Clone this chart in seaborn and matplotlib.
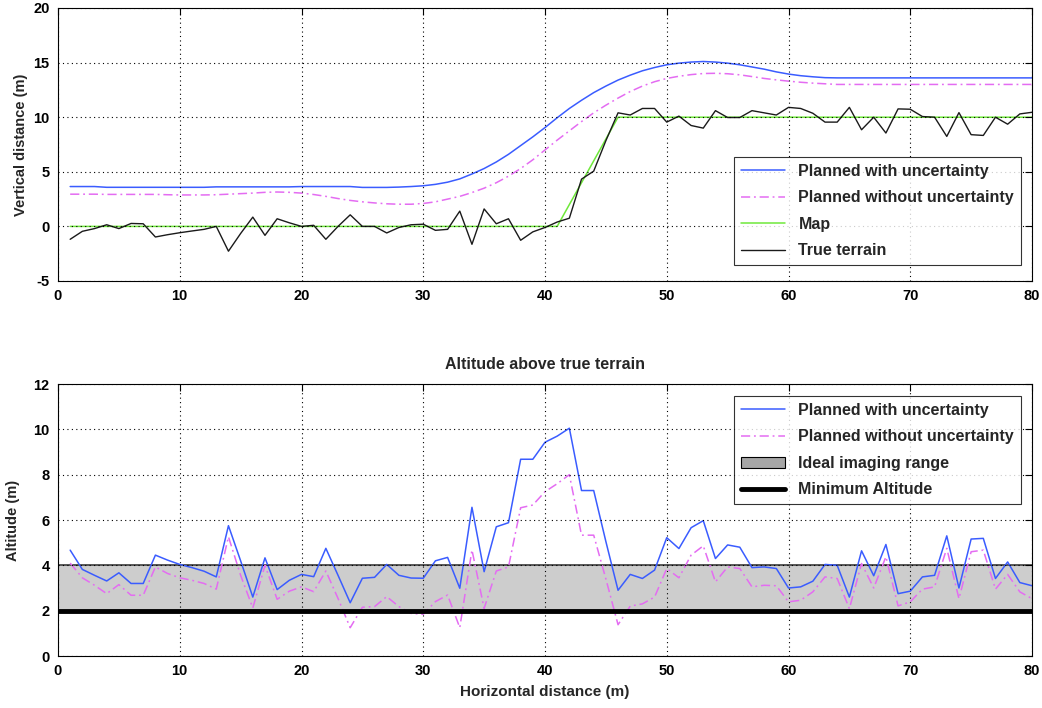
import numpy as np
import pandas as pd
import matplotlib
matplotlib.use("Agg")
import matplotlib.pyplot as plt
import seaborn as sns
from matplotlib.patches import Patch
from matplotlib.lines import Line2D

# ---------------- data ----------------
x_pos = list(range(1, 81))

terrain = [-1.18, -0.45, -0.2, 0.15, -0.2, 0.27, 0.24, -0.97, -0.76, -0.58,
           -0.42, -0.27, 0.0, -2.27, -0.65, 0.85, -0.82, 0.7, 0.33, 0.0,
           0.1, -1.18, 0.0, 1.06, 0.0, 0.0, -0.6, -0.1, 0.15, 0.2,
           -0.36, -0.27, 1.4, -1.64, 1.6, 0.24, 0.7, -1.27, -0.5, -0.1,
           0.4, 0.75, 4.33, 5.06, 7.85, 10.4, 10.2, 10.8, 10.8, 9.55,
           10.1, 9.24, 9.0, 10.6, 9.97, 9.97, 10.6, 10.4, 10.2, 10.9,
           10.8, 10.36, 9.55, 9.55, 10.9, 8.85, 10.0, 8.55, 10.76, 10.73,
           10.06, 10.0, 8.24, 10.42, 8.4, 8.33, 10.0, 9.36, 10.3, 10.45]

map_terrain = [0] * 41 + [2, 4, 6, 8] + [10] * 35

planned_with = [3.65, 3.65, 3.65, 3.58, 3.58, 3.58, 3.58, 3.58, 3.58, 3.58,
                3.58, 3.58, 3.62, 3.62, 3.62, 3.62, 3.62, 3.62, 3.62, 3.65,
                3.65, 3.65, 3.65, 3.65, 3.57, 3.57, 3.57, 3.6, 3.65, 3.72,
                3.85, 4.05, 4.35, 4.8, 5.3, 5.9, 6.6, 7.4, 8.2, 9.05,
                9.95, 10.8, 11.55, 12.25, 12.85, 13.4, 13.85, 14.25, 14.55, 14.8,
                14.95, 15.05, 15.1, 15.05, 14.95, 14.8, 14.6, 14.4, 14.15, 13.95,
                13.8, 13.7, 13.62, 13.6, 13.6, 13.6, 13.6, 13.6, 13.6, 13.6,
                13.6, 13.6, 13.6, 13.6, 13.6, 13.6, 13.6, 13.6, 13.6, 13.6]

planned_without = [2.95, 2.95, 2.95, 2.93, 2.93, 2.93, 2.93, 2.93, 2.9, 2.88,
                   2.88, 2.88, 2.9, 2.95, 3.0, 3.05, 3.12, 3.15, 3.12, 3.05,
                   2.92, 2.75, 2.55, 2.38, 2.25, 2.15, 2.07, 2.03, 2.03, 2.1,
                   2.25, 2.5, 2.75, 3.1, 3.5, 4.0, 4.6, 5.3, 6.1, 7.0,
                   7.9, 8.75, 9.6, 10.4, 11.1, 11.75, 12.35, 12.85, 13.25, 13.55,
                   13.75, 13.9, 14.0, 14.02, 13.98, 13.88, 13.72, 13.55, 13.42, 13.3,
                   13.2, 13.12, 13.06, 13.0, 13.0, 13.0, 13.0, 13.0, 13.0, 13.0,
                   13.0, 13.0, 13.0, 13.0, 13.0, 13.0, 13.0, 13.0, 13.0, 13.0]

alt_with = [4.67, 3.82, 3.56, 3.31, 3.67, 3.2, 3.2, 4.45, 4.23, 4.04,
            3.9, 3.74, 3.49, 5.75, 4.2, 2.6, 4.33, 2.93, 3.34, 3.6,
            3.5, 4.75, 3.56, 2.35, 3.43, 3.47, 4.04, 3.56, 3.44, 3.43,
            4.2, 4.35, 2.99, 6.56, 3.72, 5.7, 5.88, 8.68, 8.68, 9.43,
            9.7, 10.05, 7.3, 7.3, 5.05, 2.9, 3.6, 3.42, 3.79, 5.22,
            4.74, 5.66, 5.97, 4.3, 4.9, 4.8, 3.9, 3.93, 3.86, 3.0,
            3.05, 3.3, 4.04, 4.0, 2.6, 4.64, 3.54, 4.92, 2.75, 2.86,
            3.49, 3.56, 5.3, 3.0, 5.16, 5.19, 3.42, 4.15, 3.24, 3.1]

alt_without = [4.1, 3.45, 3.12, 2.75, 3.15, 2.68, 2.68, 3.93, 3.64, 3.45,
               3.34, 3.2, 2.95, 5.26, 3.56, 2.12, 4.0, 2.5, 2.86, 3.05,
               2.84, 3.75, 2.54, 1.25, 2.15, 2.18, 2.62, 2.18, 1.88, 1.84,
               2.4, 2.69, 1.25, 4.68, 2.1, 3.75, 3.93, 6.54, 6.66, 7.25,
               7.6, 8.0, 5.33, 5.33, 3.4, 1.38, 2.2, 2.3, 2.6, 3.86,
               3.45, 4.45, 4.86, 3.27, 3.93, 3.86, 3.05, 3.12, 3.1, 2.39,
               2.46, 2.83, 3.49, 3.42, 2.09, 4.08, 3.0, 4.38, 2.21, 2.39,
               2.95, 3.05, 4.75, 2.53, 4.6, 4.67, 2.95, 3.6, 2.83, 2.53]

imaging_range = [2, 4]
min_altitude = 2

x_ticks = [0, 10, 20, 30, 40, 50, 60, 70, 80]
top_yticks = [-5, 0, 5, 10, 15, 20]
bot_yticks = [0, 2, 4, 6, 8, 10, 12]

# ---------------- style ----------------
sns.set_theme(style="white")
plt.rcParams["font.family"] = ["Liberation Sans", "DejaVu Sans"]
plt.rcParams["font.weight"] = "bold"
plt.rcParams["axes.labelweight"] = "bold"
plt.rcParams["axes.titleweight"] = "bold"
plt.rcParams["axes.unicode_minus"] = False

BLUE = "#3a5cff"
PINK = "#e46cf2"
GREEN = "#6fe83a"
BLACK = "#1a1a1a"
DASHDOT = (0, (6, 2.5, 1.2, 2.5))
LEG_FS = 11.5

W, H = 1042, 708
fig = plt.figure(figsize=(W / 100, H / 100), dpi=100)
ax1 = fig.add_axes([58 / W, 1 - 281 / H, 974 / W, 273 / H])
ax2 = fig.add_axes([58 / W, 1 - 656 / H, 974 / W, 272 / H])

df = pd.DataFrame({"x": x_pos, "terrain": terrain, "map": map_terrain,
                   "with": planned_with, "without": planned_without,
                   "alt_with": alt_with, "alt_without": alt_without})


def style_axes(ax, yticks):
    ax.set_xlim(x_ticks[0], x_ticks[-1])
    ax.set_ylim(yticks[0], yticks[-1])
    ax.set_xticks(x_ticks)
    ax.set_yticks(yticks)
    ax.grid(True, color="black", linestyle=(0, (1, 3)), linewidth=0.8)
    ax.set_axisbelow(False)
    ax.tick_params(direction="in", top=True, right=True, length=5,
                   width=0.8, labelsize=10.5, colors="black", pad=6)
    for t in ax.get_xticklabels() + ax.get_yticklabels():
        t.set_fontweight("bold")
    for s in ax.spines.values():
        s.set_color("black")
        s.set_linewidth(0.8)


def style_legend(leg):
    leg.get_frame().set_edgecolor("black")
    leg.get_frame().set_linewidth(0.8)
    for t in leg.get_texts():
        t.set_fontweight("bold")


LEG_KW = dict(fontsize=LEG_FS, frameon=True, fancybox=False, handlelength=2.75,
              handletextpad=0.84, labelspacing=0.72, borderpad=0.42,
              borderaxespad=0)

# ---------------- top panel ----------------
sns.lineplot(data=df, x="x", y="with", ax=ax1, color=BLUE, linewidth=1.1,
             estimator=None, sort=False, label="Planned with uncertainty")
sns.lineplot(data=df, x="x", y="without", ax=ax1, color=PINK, linewidth=1.1,
             linestyle=DASHDOT, estimator=None, sort=False,
             label="Planned without uncertainty")
sns.lineplot(data=df, x="x", y="map", ax=ax1, color=GREEN, linewidth=1.1,
             estimator=None, sort=False, label="Map")
sns.lineplot(data=df, x="x", y="terrain", ax=ax1, color=BLACK, linewidth=1.0,
             estimator=None, sort=False, label="True terrain")
style_axes(ax1, top_yticks)
ax1.set_xlabel("")
ax1.set_ylabel("Vertical distance (m)", fontsize=10.5, fontweight="bold", labelpad=4)
leg1 = ax1.legend(loc="lower right", bbox_to_anchor=(0.9885, 0.058), **LEG_KW)
style_legend(leg1)

# ---------------- bottom panel ----------------
ax2.axhspan(imaging_range[0], imaging_range[1], facecolor="#cdcdcd",
            edgecolor="none", zorder=0.5)
ax2.axhline(imaging_range[1], color="#4a4a4a", linewidth=1.3, zorder=1)
sns.lineplot(data=df, x="x", y="alt_with", ax=ax2, color=BLUE, linewidth=1.1,
             estimator=None, sort=False, legend=False)
sns.lineplot(data=df, x="x", y="alt_without", ax=ax2, color=PINK, linewidth=1.1,
             linestyle=DASHDOT, estimator=None, sort=False, legend=False)
ax2.axhline(min_altitude, color="black", linewidth=3.5, zorder=3)
style_axes(ax2, bot_yticks)
ax2.set_xlabel("Horizontal distance (m)", fontsize=11, fontweight="bold", labelpad=5)
ax2.set_ylabel("Altitude (m)", fontsize=10.5, fontweight="bold", labelpad=10)
ax2.set_title("Altitude above true terrain", fontsize=11.5, fontweight="bold", pad=11)

handles = [Line2D([], [], color=BLUE, linewidth=1.1),
           Line2D([], [], color=PINK, linewidth=1.1, linestyle=DASHDOT),
           Patch(facecolor="#a6a6a6", edgecolor="black", linewidth=0.8),
           Line2D([], [], color="black", linewidth=3.5)]
labels = ["Planned with uncertainty", "Planned without uncertainty",
          "Ideal imaging range", "Minimum Altitude"]
leg2 = ax2.legend(handles, labels, loc="upper right",
                  bbox_to_anchor=(0.9885, 0.955), **LEG_KW)
style_legend(leg2)

fig.savefig("out.png", dpi=100, facecolor="white")
